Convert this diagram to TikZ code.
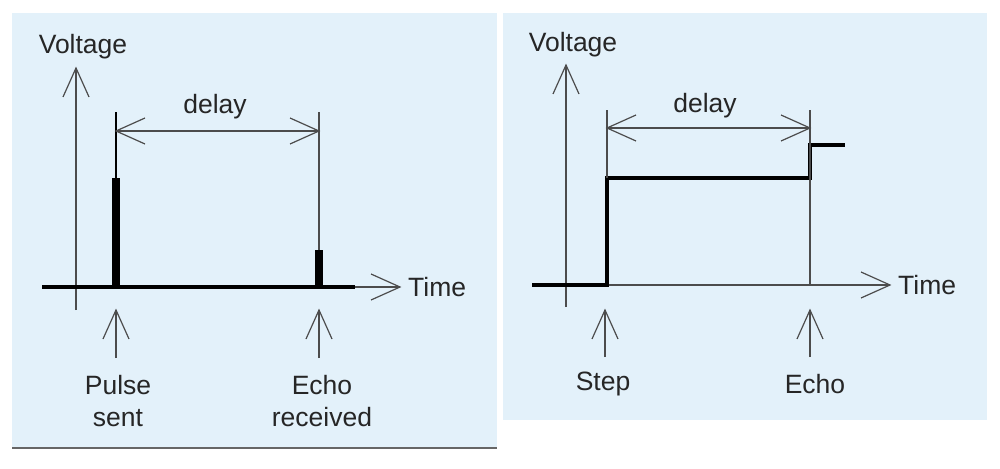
\documentclass[tikz,border=0pt]{standalone}
\usepackage{fontspec}
\setmainfont{Liberation Sans}
\begin{document}
\begin{tikzpicture}[x=1pt,y=-1pt,
  thin line/.style={draw=black!70,line width=1.2pt},
  thick line/.style={draw=black,line width=3.5pt},
  bar/.style={draw=black,line width=8pt},
  lbl/.style={font=\fontsize{26.5}{28}\selectfont,text=black!85,inner sep=0pt},
]
\useasboundingbox (0,0) rectangle (1000,468);
\fill[white] (0,0) rectangle (1000,468);
\fill[fill={rgb,255:red,227;green,241;blue,250}] (12,13) rectangle (497,448);
\draw[black!60,line width=1.5pt] (12,448) -- (497,448);
\fill[fill={rgb,255:red,227;green,241;blue,250}] (503,13) rectangle (987,420);
\tikzset{vhead/.pic={\draw[thin line] (-13,29) -- (0,0) -- (13,29);},
         rhead/.pic={\draw[thin line] (-29,-13) -- (0,0) -- (-29,13);},
         lhead/.pic={\draw[thin line] (29,-13) -- (0,0) -- (29,13);}}
% ===== Left panel
\coordinate (ly0) at (76,310); \coordinate (ly1) at (76,68);
\draw[thin line] (ly0) -- (ly1); \pic at (ly1) {vhead};
\node[lbl] (lvolt) at (83,47) {Voltage};
\coordinate (lx0) at (42,287); \coordinate (lx1) at (400,287);
\draw[thin line] (lx0) -- (lx1); \pic at (lx1) {rhead};
\draw[thick line] (lx0) -- (355,287);
\node[lbl,anchor=west] (ltime) at (408,287) {Time};
\coordinate (p0) at (116,287); \coordinate (p1) at (116,178); \coordinate (p2) at (116,112);
\draw[bar] (p0) -- (p1); \draw[thin line,draw=black] (p1) -- (p2);
\coordinate (e0) at (319,287); \coordinate (e1) at (319,250); \coordinate (e2) at (319,112);
\draw[bar] (e0) -- (e1); \draw[thin line] (e1) -- (e2);
\coordinate (ld0) at (116,131); \coordinate (ld1) at (319,131);
\draw[thin line] (ld0) -- (ld1); \pic at (ld0) {lhead}; \pic at (ld1) {rhead};
\node[lbl] (ldelay) at (215,107) {delay};
\coordinate (pa0) at (116,358); \coordinate (pa1) at (116,310);
\draw[thin line] (pa0) -- (pa1); \pic at (pa1) {vhead};
\coordinate (ea0) at (319,358); \coordinate (ea1) at (319,310);
\draw[thin line] (ea0) -- (ea1); \pic at (ea1) {vhead};
\node[lbl,align=center] (pulse) at (118,401) {Pulse\\[4pt]sent};
\node[lbl,align=center] (echo) at (322,401) {Echo\\[4pt]received};
% ===== Right panel
\coordinate (ry0) at (566,307); \coordinate (ry1) at (566,65);
\draw[thin line] (ry0) -- (ry1); \pic at (ry1) {vhead};
\node[lbl] (rvolt) at (573,45) {Voltage};
\coordinate (rx0) at (532,285); \coordinate (rx1) at (890,285);
\draw[thin line] (rx0) -- (rx1); \pic at (rx1) {rhead};
\node[lbl,anchor=west] (rtime) at (898,285) {Time};
\draw[thick line,line join=miter] (rx0) -- (607,285) -- (607,178) -- (810,178) -- (810,145) -- (845,145);
\draw[thin line] (607,178) -- (607,110);
\draw[thin line] (810,285) -- (810,110);
\coordinate (rd0) at (607,128); \coordinate (rd1) at (810,128);
\draw[thin line] (rd0) -- (rd1); \pic at (rd0) {lhead}; \pic at (rd1) {rhead};
\node[lbl] (rdelay) at (705,106) {delay};
\coordinate (sa0) at (605,357); \coordinate (sa1) at (605,310);
\draw[thin line] (sa0) -- (sa1); \pic at (sa1) {vhead};
\coordinate (ra0) at (810,357); \coordinate (ra1) at (810,310);
\draw[thin line] (ra0) -- (ra1); \pic at (ra1) {vhead};
\node[lbl] (step) at (603,384) {Step};
\node[lbl] (recho) at (815,384) {Echo};
\end{tikzpicture}
\end{document}
